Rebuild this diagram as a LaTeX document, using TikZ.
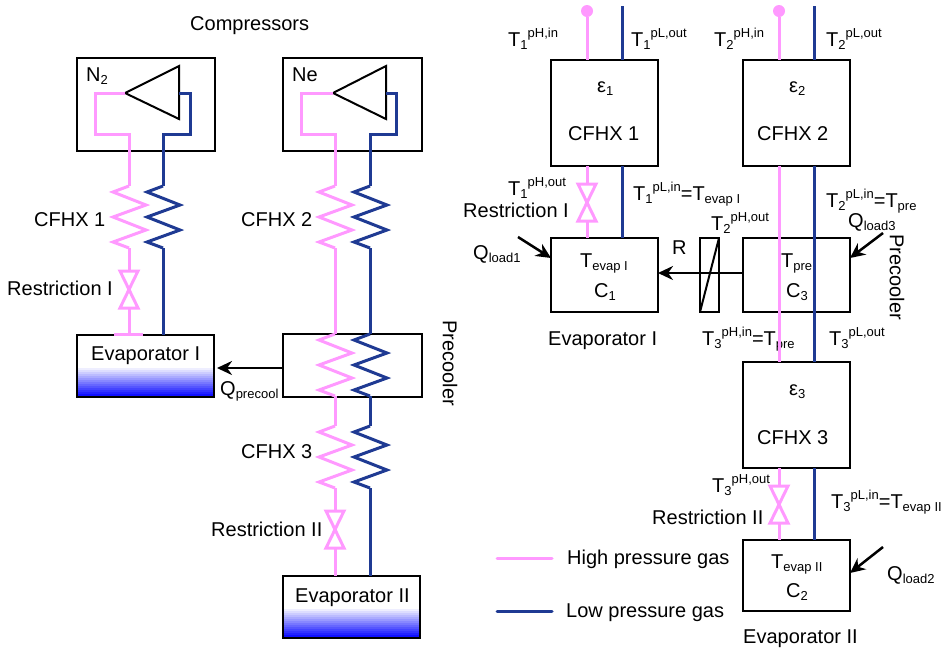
\documentclass[tikz,border=0pt]{standalone}
\usepackage{fontspec}
\setmainfont{Liberation Sans}
\usepackage{tikz}
\usetikzlibrary{arrows.meta}
\definecolor{hpink}{HTML}{FF99FF}
\definecolor{lblue}{HTML}{1F3A93}
\newcommand{\dn}[1]{\raisebox{-3pt}{\fontsize{13}{13}\selectfont #1}}
\newcommand{\up}[1]{\raisebox{9pt}{\fontsize{13}{13}\selectfont #1}}
\tikzset{
  box/.style={draw=black, line width=2.5pt, inner sep=0pt, outer sep=0pt},
  evapbox/.style={box, path picture={
      \foreach \i in {0,...,15}{
        \pgfmathsetmacro{\pct}{\i*100/15}
        \fill[blue!\pct!white]
          (path picture bounding box.west) ++(0,{2*\i}) rectangle ++(140,40);
      }}},
  hp/.style={draw=hpink, line width=3pt},
  lp/.style={draw=lblue, line width=3pt},
  tri/.style={draw=black, line width=2pt},
  ar/.style={draw=black, line width=2.5pt, -{Stealth[length=15pt, width=14pt]}},
  lab/.style={anchor=base west, inner sep=0pt, font=\fontsize{20}{24}\selectfont},
  dot/.style={circle, fill=hpink, inner sep=0pt, minimum size=12pt},
  pics/zig/.style={code={
      \draw[#1] (0,0) -- (-16,6) -- (17,19) -- (-16,31) -- (17,44) -- (-16,56) -- (0,62);
      \coordinate (-in) at (0,0);
      \coordinate (-out) at (0,62);}},
  pics/valve/.style={code={
      \draw[hp] (-9,0) -- (9,0) -- (-9,37) -- (9,37) -- cycle;
      \coordinate (-in) at (0,0);
      \coordinate (-out) at (0,37);}}
}
\begin{document}
\begin{tikzpicture}[x=1pt, y=-1pt]
  \useasboundingbox (0,0) rectangle (942,649);

  % left: labels
  \node (lCompr) at (190,30)  [lab] {Compressors};
  \node (lNtwo)  at (86,81)   [lab] {N\dn{2}};
  \node (lNe)    at (292,81)  [lab] {Ne};
  \node (lHxA)   at (34,226)  [lab] {CFHX 1};
  \node (lHxB)   at (241,226) [lab] {CFHX 2};
  \node (lHxC)   at (241,458) [lab] {CFHX 3};
  \node (lResA)  at (7,295)   [lab] {Restriction I};
  \node (lResB)  at (211,536) [lab] {Restriction II};
  \node (lQpre)  at (220,395) [lab] {Q\dn{precool}};

  % left: boxes
  \node (compA) at (146,104.5)  [box, minimum width=138, minimum height=93] {};
  \node (compB) at (352.5,104.5) [box, minimum width=139, minimum height=93] {};
  \node (preL)  at (352.5,365.5) [box, minimum width=139, minimum height=63] {};
  \node (evapL) at (145.5,366)  [evapbox, minimum width=137, minimum height=62] {};
  \node (evapR) at (351.5,607)  [evapbox, minimum width=137, minimum height=62] {};
  \node (lEvA)  at (91,360)     [lab] {Evaporator I};
  \node (lEvB)  at (295,602)    [lab] {Evaporator II};
  \node (lPreL) at (450,363)    [font=\fontsize{20}{24}\selectfont, rotate=-90, inner sep=0pt] {Precooler};

  % left: compressors
  \coordinate (inA)  at (125,93);
  \coordinate (outA) at (179,93);
  \coordinate (inB)  at (333,93);
  \coordinate (outB) at (386,93);
  \draw[tri] (inA) -- (179,66) -- (179,119) -- cycle;
  \draw[tri] (inB) -- (386,66) -- (386,119) -- cycle;

  % left: N2 line
  \pic (zigAh) at (129,186) {zig=hp};
  \pic (zigAl) at (163,186) {zig=lp};
  \pic (valA)  at (129,271) {valve};
  \draw[hp] (inA) -| (95,134) -| (zigAh-in);
  \draw[lp] (outA) -| (190,134) -| (zigAl-in);
  \draw[hp] (zigAh-out) -- (valA-in);
  \draw[hp] (valA-out) -- (valA-out |- evapL.north);
  \draw[hp] (114,334) -- (143,334);
  \draw[lp] (zigAl-out) -- (zigAl-out |- evapL.north);

  % left: Ne line
  \pic (zigBh) at (335,186) {zig=hp};
  \pic (zigBl) at (370,186) {zig=lp};
  \pic (zigPh) at (335,334) {zig=hp};
  \pic (zigPl) at (370,334) {zig=lp};
  \pic (zigCh) at (335,426) {zig=hp};
  \pic (zigCl) at (370,426) {zig=lp};
  \pic (valB)  at (335,511) {valve};
  \draw[hp] (inB) -| (301,134) -| (zigBh-in);
  \draw[lp] (outB) -| (396,134) -| (zigBl-in);
  \draw[hp] (zigBh-out) -- (zigPh-in);
  \draw[lp] (zigBl-out) -- (zigPl-in);
  \draw[hp] (zigPh-out) -- (zigCh-in);
  \draw[lp] (zigPl-out) -- (zigCl-in);
  \draw[hp] (zigCh-out) -- (valB-in);
  \draw[hp] (valB-out) -- (valB-out |- evapR.north);
  \draw[lp] (zigCl-out) -- (zigCl-out |- evapR.north);

  \draw[ar] (preL.west |- 0,368) -- (217,368);

  % right: labels
  \node (tA)    at (508,46)  [lab] {T\dn{1}\up{pH,in}};
  \node (tB)    at (631,46)  [lab] {T\dn{1}\up{pL,out}};
  \node (tC)    at (714,46)  [lab] {T\dn{2}\up{pH,in}};
  \node (tD)    at (826,46)  [lab] {T\dn{2}\up{pL,out}};
  \node (tE)    at (508,195) [lab] {T\dn{1}\up{pH,out}};
  \node (tF)    at (633,200) [lab] {T\dn{1}\up{pL,in}=T\dn{evap I}};
  \node (tG)    at (711,230) [lab] {T\dn{2}\up{pH,out}};
  \node (tH)    at (826,207) [lab] {T\dn{2}\up{pL,in}=T\dn{pre}};
  \node (tI)    at (702,345) [lab] {T\dn{3}\up{pH,in}=T\dn{pre}};
  \node (tJ)    at (829,345) [lab] {T\dn{3}\up{pL,out}};
  \node (tK)    at (712,492) [lab] {T\dn{3}\up{pH,out}};
  \node (tL)    at (831,508) [lab] {T\dn{3}\up{pL,in}=T\dn{evap II}};
  \node (eA)    at (597,92)  [lab] {ε\dn{1}};
  \node (eB)    at (789,92)  [lab] {ε\dn{2}};
  \node (eC)    at (789,395) [lab] {ε\dn{3}};
  \node (hA)    at (568,140) [lab] {CFHX 1};
  \node (hB)    at (757,140) [lab] {CFHX 2};
  \node (hC)    at (757,444) [lab] {CFHX 3};
  \node (rA)    at (463,217) [lab] {Restriction I};
  \node (rB)    at (652,524) [lab] {Restriction II};
  \node (qA)    at (473,259) [lab] {Q\dn{load1}};
  \node (qB)    at (887,580) [lab] {Q\dn{load2}};
  \node (qC)    at (848,227) [lab] {Q\dn{load3}};
  \node (tEvA)  at (580,267) [lab] {T\dn{evap I}};
  \node (cA)    at (594,297) [lab] {C\dn{1}};
  \node (tPre)  at (781,267) [lab] {T\dn{pre}};
  \node (cC)    at (786,297) [lab] {C\dn{3}};
  \node (tEvB)  at (771,568) [lab] {T\dn{evap II}};
  \node (cB)    at (786,597) [lab] {C\dn{2}};
  \node (rLab)  at (672,254) [lab] {R};
  \node (evA)   at (548,345) [lab] {Evaporator I};
  \node (evB)   at (743,643) [lab] {Evaporator II};
  \node (lPreR) at (897,277) [font=\fontsize{20}{24}\selectfont, rotate=-90, inner sep=0pt] {Precooler};

  % right: boxes
  \node (hxA)  at (604.5,113) [box, minimum width=107, minimum height=106] {};
  \node (hxB)  at (796.5,113) [box, minimum width=107, minimum height=106] {};
  \node (hxC)  at (796.5,415) [box, minimum width=107, minimum height=106] {};
  \node (volA) at (604.5,275) [box, minimum width=107, minimum height=74] {};
  \node (volC) at (796.5,275) [box, minimum width=107, minimum height=74] {};
  \node (volB) at (796.5,575.5) [box, minimum width=107, minimum height=71] {};
  \node (res)  at (709.5,275) [box, minimum width=19, minimum height=74] {};
  \draw[tri] (res.north east) -- (res.south west);

  % right: pipes
  \node (dotA) at (587,11) [dot] {};
  \node (dotB) at (779,11) [dot] {};
  \coordinate (topA) at (622,6);
  \coordinate (topB) at (814,6);
  \pic (valC) at (587,184) {valve};
  \pic (valD) at (779,486) {valve};
  \draw[hp] (dotA) -- (dotA |- hxA.north);
  \draw[lp] (topA) -- (topA |- hxA.north);
  \draw[hp] (dotB) -- (dotB |- hxB.north);
  \draw[lp] (topB) -- (topB |- hxB.north);
  \draw[hp] (dotA |- hxA.south) -- (valC-in);
  \draw[hp] (valC-out) -- (dotA |- volA.north);
  \draw[lp] (topA |- hxA.south) -- (topA |- volA.north);
  \draw[hp] (dotB |- hxB.south) -- (dotB |- hxC.north);
  \draw[lp] (topB |- hxB.south) -- (topB |- hxC.north);
  \draw[hp] (dotB |- hxC.south) -- (valD-in);
  \draw[hp] (valD-out) -- (dotB |- volB.north);
  \draw[lp] (topB |- hxC.south) -- (topB |- volB.north);

  % right: heat flows
  \coordinate (loadA) at (518,237);
  \coordinate (loadB) at (883,547);
  \coordinate (loadC) at (883,233);
  \draw[ar] (volC.west |- 0,273) -- (volA.east |- 0,273);
  \draw[ar] (loadA) -- (volA.west |- 0,258);
  \draw[ar] (loadB) -- (volB.east |- 0,573);
  \draw[ar] (loadC) -- (volC.east |- 0,258);

  % legend
  \coordinate (legA) at (497,558);
  \coordinate (legB) at (552,558);
  \coordinate (legC) at (497,611);
  \coordinate (legD) at (552,611);
  \draw[hp, line cap=round] (legA) -- (legB);
  \draw[lp, line cap=round] (legC) -- (legD);
  \node (legHi) at (567,564) [lab] {High pressure gas};
  \node (legLo) at (566,617) [lab] {Low pressure gas};
\end{tikzpicture}
\end{document}
